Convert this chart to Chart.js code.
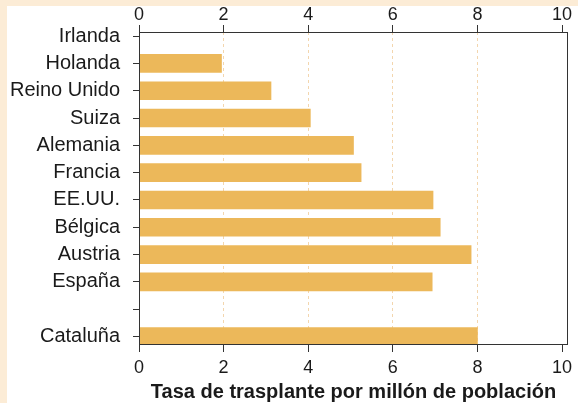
<!DOCTYPE html>
<html>
<head>
<meta charset="utf-8">
<script src="https://cdn.jsdelivr.net/npm/chart.js@4/dist/chart.umd.min.js"></script>
<style>
  html, body { margin: 0; padding: 0; background: #ffffff; }
  #frame {
    position: absolute; left: 0; top: 0;
    width: 571px; height: 397px;
    border-left: 7px solid #fcecd6;
    border-top: 6px solid #fcecd6;
    background: #ffffff;
  }
  canvas { display: block; }
</style>
</head>
<body>
<div id="frame"><canvas id="chart" width="571" height="397"></canvas></div>
<script>
const countries = ["Irlanda", "Holanda", "Reino Unido", "Suiza", "Alemania", "Francia", "EE.UU.", "Bélgica", "Austria", "España", "", "Cataluña"];
const rates = [0, 1.95, 3.12, 4.05, 5.07, 5.25, 6.95, 7.12, 7.85, 6.93, null, 8.0];
const xTicks = [0, 2, 4, 6, 8, 10];
const xTitle = "Tasa de trasplante por millón de población";

const textColor = "#1a1a1a";
const lineColor = "#333333";
const gridColor = "#f3d6ae";

Chart.defaults.font.family = "'Liberation Sans', Arial, sans-serif";
Chart.defaults.color = textColor;

const points = rates
  .map((value, index) => ({ x: value, y: index }))
  .filter(p => p.x !== null);

const setXTicks = scale => {
  scale.ticks = xTicks.map(value => ({ value }));
};

// box around the plot area, drawn over the bars
const plotFrame = {
  id: "plotFrame",
  afterDatasetsDraw(chart) {
    const { ctx, chartArea } = chart;
    const left = Math.round(chartArea.left) + 0.5;
    const top = Math.round(chartArea.top) + 0.5;
    const right = Math.round(chartArea.right) - 0.5;
    const bottom = Math.round(chartArea.bottom) - 0.5;
    ctx.save();
    ctx.strokeStyle = lineColor;
    ctx.lineWidth = 1;
    ctx.strokeRect(left, top, right - left, bottom - top);
    ctx.restore();
  }
};

new Chart(document.getElementById("chart"), {
  type: "bar",
  data: {
    datasets: [
      {
        data: points,
        backgroundColor: "#ecb85a",
        borderWidth: 0,
        barThickness: 18
      }
    ]
  },
  options: {
    indexAxis: "y",
    responsive: false,
    animation: false,
    layout: { padding: { left: 0, top: 0, right: 10, bottom: 0 } },
    plugins: {
      legend: { display: false },
      tooltip: { enabled: false }
    },
    scales: {
      y: {
        type: "linear",
        reverse: true,
        offset: false,
        bounds: "data",
        min: -0.15,
        max: 11.31,
        afterBuildTicks: scale => {
          scale.ticks = countries.map((c, i) => ({ value: i }));
        },
        afterFit: scale => { scale.width = 132; },
        ticks: {
          autoSkip: false,
          padding: 13,
          font: { size: 20 },
          color: textColor,
          callback: value => countries[value]
        },
        grid: {
          offset: false,
          drawOnChartArea: false,
          tickLength: 6,
          tickColor: lineColor
        },
        border: { display: false }
      },
      x: {
        type: "linear",
        position: "bottom",
        bounds: "data",
        min: 0,
        max: 10.14,
        afterBuildTicks: setXTicks,
        afterFit: scale => { scale.height = 58; },
        ticks: {
          autoSkip: false,
          padding: 5,
          font: { size: 18 },
          color: textColor,
          callback: value => value
        },
        grid: {
          color: ctx => (ctx.tick && (ctx.tick.value === 0 || ctx.tick.value === 10)) ? "rgba(0,0,0,0)" : gridColor,
          lineWidth: 1,
          tickLength: 7,
          tickColor: lineColor
        },
        border: { display: false, dash: [3, 3] },
        title: {
          display: true,
          text: xTitle,
          font: { size: 20, weight: "bold" },
          color: textColor,
          padding: { top: 0, bottom: -1 }
        }
      },
      x2: {
        type: "linear",
        position: "top",
        bounds: "data",
        min: 0,
        max: 10.14,
        afterBuildTicks: setXTicks,
        afterFit: scale => { scale.height = 26; },
        ticks: {
          autoSkip: false,
          padding: -1,
          font: { size: 18 },
          color: textColor,
          callback: value => value
        },
        grid: {
          drawOnChartArea: false,
          tickLength: 7,
          tickColor: lineColor
        },
        border: { display: false }
      }
    }
  },
  plugins: [plotFrame]
});
</script>
</body>
</html>
